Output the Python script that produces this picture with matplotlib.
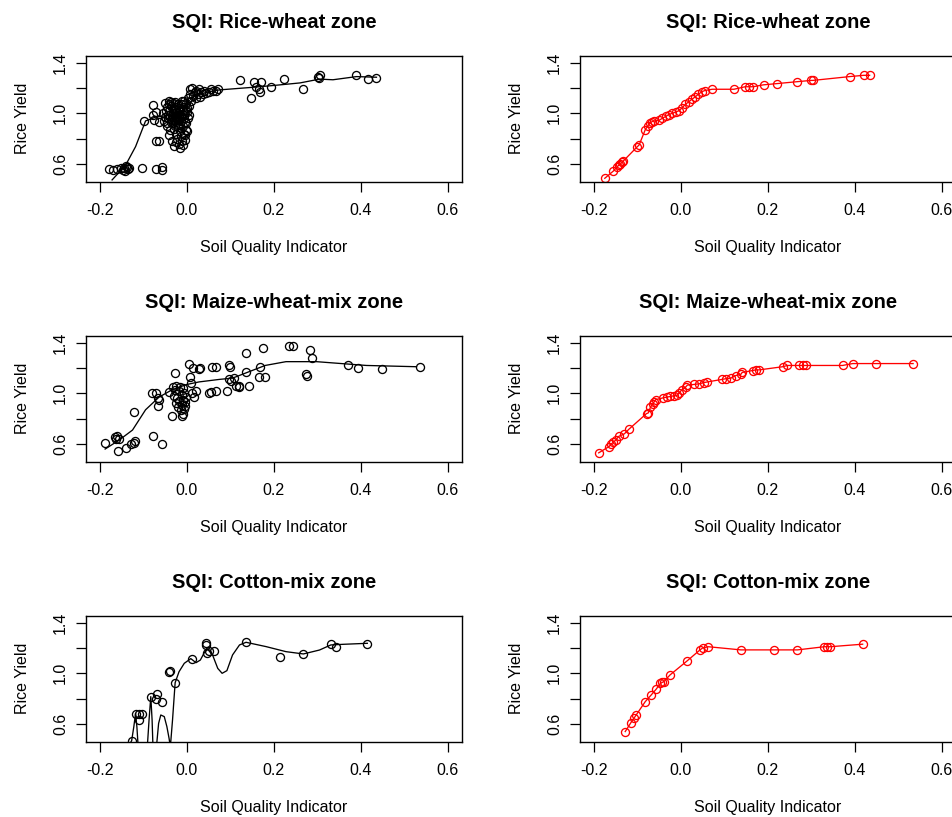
import matplotlib
matplotlib.use("Agg")
import matplotlib.pyplot as plt

plt.rcParams["font.family"] = ["Liberation Sans", "DejaVu Sans"]
plt.rcParams["axes.unicode_minus"] = False

titles = ["SQI: Rice-wheat zone", "SQI: Maize-wheat-mix zone", "SQI: Cotton-mix zone"]
x_ticks = [-0.2, 0.0, 0.2, 0.4, 0.6]
x_tick_labels = ["-0.2", "0.0", "0.2", "0.4", "0.6"]
y_ticks = [0.6, 0.8, 1.0, 1.2, 1.4]
y_tick_labels = ["0.6", "", "1.0", "", "1.4"]

# ---- Rice-wheat zone ----
rw_x = [-0.179, -0.171, -0.160, -0.152, -0.145, -0.143, -0.138, -0.135, -0.132, -0.140, -0.148,
        -0.104, -0.072, -0.058, -0.057,
        -0.098, -0.079, -0.079, -0.072, -0.064, -0.075, -0.070, -0.064,
        -0.050, -0.045, -0.042, -0.040, -0.038, -0.036, -0.035, -0.033, -0.032, -0.030,
        -0.030, -0.028, -0.027, -0.026, -0.025, -0.024, -0.022, -0.022, -0.020, -0.020,
        -0.018, -0.018, -0.016, -0.015, -0.014, -0.013, -0.012, -0.011, -0.010, -0.010,
        -0.008, -0.007, -0.006, -0.005, -0.004, -0.003, -0.002, 0.000, 0.002, 0.003,
        0.005, 0.007, 0.008, 0.010, 0.012, 0.015, 0.018, 0.020, 0.022, 0.025,
        0.028, 0.030, 0.033, 0.036, 0.040, 0.045, 0.050, 0.055, 0.060, 0.068, 0.072,
        -0.040, -0.035, -0.030, -0.025, -0.015, -0.012, -0.005, 0.000, -0.045, -0.050, -0.055,
        -0.052, -0.048, -0.046, -0.043, -0.041, -0.039, -0.037, -0.034, -0.031, -0.029,
        -0.027, -0.023, -0.021, -0.019, -0.017, -0.014, -0.009, -0.006, -0.003, -0.001,
        -0.044, -0.036, -0.028, -0.021, -0.013, -0.007, 0.001, 0.004, -0.016, -0.024,
        0.122, 0.148, 0.155, 0.171, 0.159, 0.166, 0.168, 0.194, 0.223, 0.268,
        0.302, 0.304, 0.305, 0.388, 0.417, 0.435]
rw_y = [0.560, 0.555, 0.560, 0.570, 0.565, 0.545, 0.580, 0.560, 0.570, 0.585, 0.550,
        0.570, 0.560, 0.580, 0.550,
        0.940, 1.066, 0.990, 1.010, 0.930, 0.950, 0.780, 0.780,
        1.08, 1.05, 1.10, 1.02, 0.98, 1.06, 0.95, 1.00, 0.92, 1.04,
        0.88, 0.97, 1.09, 0.84, 0.93, 1.01, 0.80, 0.95, 1.07, 0.89,
        0.99, 0.76, 0.86, 1.03, 0.94, 0.82, 1.10, 0.97, 0.75, 0.90,
        1.05, 0.84, 0.99, 0.93, 0.79, 1.08, 0.87, 1.01, 0.96, 1.12,
        1.06, 1.19, 1.15, 1.10, 1.20, 1.14, 1.17, 1.12, 1.18, 1.15,
        1.19, 1.13, 1.17, 1.15, 1.18, 1.16, 1.17, 1.19, 1.18, 1.18, 1.19,
        0.83, 0.78, 0.74, 0.77, 0.73, 0.78, 0.83, 0.86, 0.92, 0.97, 1.00,
        0.94, 1.02, 0.90, 0.96, 1.07, 0.87, 0.93, 0.97, 1.08, 0.95,
        1.03, 0.98, 0.91, 1.04, 0.96, 1.07, 1.02, 0.96, 1.03, 0.92,
        0.99, 1.09, 0.90, 1.00, 0.98, 1.10, 1.04, 0.99, 0.91, 1.05,
        1.26, 1.12, 1.25, 1.25, 1.21, 1.19, 1.17, 1.21, 1.27, 1.19,
        1.29, 1.28, 1.30, 1.30, 1.27, 1.28]
rw_smooth_x = [-0.172, -0.141, -0.118, -0.095, -0.072, -0.050, -0.030, -0.010, 0.010, 0.030,
               0.050, 0.075, 0.150, 0.200, 0.260, 0.305, 0.336, 0.390, 0.436]
rw_smooth_y = [0.474, 0.590, 0.737, 0.940, 0.970, 0.980, 0.990, 1.020, 1.090, 1.150,
               1.170, 1.185, 1.205, 1.220, 1.240, 1.270, 1.265, 1.290, 1.285]
rw_fit_x = [-0.175, -0.155, -0.147, -0.143, -0.139, -0.135, -0.132, -0.100, -0.096, -0.082,
            -0.076, -0.072, -0.066, -0.061, -0.050, -0.043, -0.035, -0.028, -0.020, -0.012,
            -0.005, 0.002, 0.010, 0.018, 0.025, 0.033, 0.040, 0.048, 0.055, 0.072,
            0.122, 0.148, 0.157, 0.166, 0.190, 0.222, 0.268, 0.300, 0.304, 0.388, 0.420, 0.434]
rw_fit_y = [0.487, 0.545, 0.575, 0.590, 0.600, 0.615, 0.625, 0.737, 0.750, 0.870,
            0.900, 0.920, 0.935, 0.940, 0.945, 0.960, 0.975, 0.990, 1.000, 1.010,
            1.020, 1.040, 1.070, 1.090, 1.110, 1.130, 1.150, 1.170, 1.180, 1.190,
            1.190, 1.210, 1.210, 1.210, 1.225, 1.235, 1.250, 1.260, 1.260, 1.290, 1.300, 1.300]

# ---- Maize-wheat-mix zone ----
mw_x = [-0.188, -0.166, -0.160, -0.157, -0.164, -0.158, -0.141, -0.129, -0.121, -0.119,
        -0.122, -0.078, -0.058, -0.081, -0.072, -0.066, -0.064, -0.066, -0.035, -0.027, -0.040,
        -0.033, -0.030, -0.028, -0.026, -0.024, -0.022, -0.020, -0.018, -0.017, -0.015,
        -0.014, -0.012, -0.011, -0.010, -0.008, -0.007, -0.006, -0.005, -0.004, -0.003,
        -0.012, -0.010,
        0.005, 0.013, 0.027, 0.031, 0.008, 0.010, 0.012, 0.016, 0.020, 0.055,
        0.051, 0.058, 0.067, 0.067, 0.092, 0.098, 0.100, 0.098, 0.102, 0.109,
        0.114, 0.120, 0.121, 0.136, 0.135, 0.144, 0.167, 0.165, 0.180, 0.176,
        0.235, 0.244, 0.276, 0.275, 0.283, 0.287, 0.371, 0.394, 0.448, 0.535]
mw_y = [0.61, 0.655, 0.665, 0.64, 0.64, 0.545, 0.565, 0.60, 0.605, 0.62,
        0.85, 0.66, 0.60, 1.00, 1.00, 0.96, 0.95, 0.90, 0.82, 1.16, 1.01,
        1.05, 0.98, 1.03, 0.92, 1.06, 0.96, 0.89, 1.02, 0.94, 1.05,
        0.87, 0.99, 0.91, 1.04, 0.95, 0.88, 1.00, 0.93, 0.90, 0.97,
        0.82, 0.84,
        1.23, 1.20, 1.19, 1.20, 1.13, 1.08, 1.00, 0.97, 1.02, 1.01,
        1.00, 1.21, 1.21, 1.02, 1.02, 1.22, 1.21, 1.11, 1.10, 1.12,
        1.06, 1.05, 1.06, 1.32, 1.17, 1.06, 1.21, 1.13, 1.13, 1.36,
        1.37, 1.375, 1.14, 1.15, 1.34, 1.28, 1.22, 1.20, 1.19, 1.21]
mw_smooth_x = [-0.188, -0.156, -0.125, -0.095, -0.064, -0.033, 0.000, 0.028, 0.075, 0.105,
               0.150, 0.180, 0.228, 0.298, 0.336, 0.413, 0.528]
mw_smooth_y = [0.56, 0.63, 0.71, 0.87, 0.97, 1.03, 1.07, 1.09, 1.11, 1.12,
               1.18, 1.22, 1.25, 1.25, 1.24, 1.22, 1.21]
mw_fit_x = [-0.189, -0.165, -0.160, -0.155, -0.150, -0.143, -0.130, -0.120, -0.079, -0.075,
            -0.070, -0.065, -0.061, -0.058, -0.040, -0.032, -0.025, -0.016, -0.008, -0.005,
            0.003, 0.011, 0.015, 0.030, 0.042, 0.053, 0.061, 0.095, 0.103, 0.115,
            0.126, 0.138, 0.141, 0.165, 0.172, 0.180, 0.234, 0.245, 0.272, 0.280,
            0.288, 0.372, 0.395, 0.449, 0.534]
mw_fit_y = [0.530, 0.580, 0.600, 0.615, 0.630, 0.660, 0.680, 0.715, 0.840, 0.845,
            0.890, 0.915, 0.935, 0.950, 0.965, 0.970, 0.975, 0.980, 0.985, 1.000,
            1.030, 1.050, 1.065, 1.070, 1.075, 1.085, 1.090, 1.110, 1.115, 1.120,
            1.140, 1.150, 1.165, 1.180, 1.185, 1.185, 1.210, 1.220, 1.220, 1.220,
            1.220, 1.220, 1.235, 1.235, 1.235]

# ---- Cotton-mix zone ----
cm_x = [-0.127, -0.116, -0.110, -0.104, -0.110, -0.083, -0.068, -0.070, -0.058, -0.041,
        -0.039, -0.027, 0.012, 0.045, 0.045, 0.047, 0.050, 0.063, 0.136, 0.215,
        0.268, 0.331, 0.344, 0.415]
cm_y = [0.468, 0.68, 0.675, 0.68, 0.63, 0.816, 0.84, 0.80, 0.776, 1.01,
        1.02, 0.926, 1.11, 1.24, 1.22, 1.16, 1.18, 1.18, 1.245, 1.126,
        1.15, 1.235, 1.21, 1.235]
cm_smooth_x = [-0.135, -0.127, -0.122, -0.118, -0.115, -0.112, -0.091, -0.087, -0.083, -0.080,
               -0.078, -0.070, -0.065, -0.060, -0.052, -0.046, -0.041, -0.038, -0.033, -0.027,
               -0.018, -0.006, 0.009, 0.021, 0.031, 0.040, 0.048, 0.059, 0.071, 0.081,
               0.092, 0.105, 0.121, 0.136, 0.182, 0.228, 0.268, 0.305, 0.331, 0.359, 0.415]
cm_smooth_y = [0.421, 0.468, 0.579, 0.684, 0.579, 0.420, 0.420, 0.632, 0.816, 0.632,
               0.420, 0.420, 0.605, 0.671, 0.658, 0.579, 0.487, 0.420, 0.632, 0.926,
               1.013, 1.079, 1.116, 1.084, 1.105, 1.163, 1.189, 1.145, 1.039, 1.000,
               1.021, 1.145, 1.224, 1.245, 1.211, 1.171, 1.153, 1.184, 1.224, 1.229, 1.237]
cm_fit_x = [-0.128, -0.115, -0.108, -0.103, -0.082, -0.068, -0.057, -0.047, -0.043, -0.039,
            -0.025, 0.015, 0.044, 0.050, 0.063, 0.138, 0.215, 0.268, 0.330, 0.337,
            0.343, 0.418]
cm_fit_y = [0.540, 0.610, 0.645, 0.670, 0.776, 0.830, 0.874, 0.920, 0.928, 0.935,
            0.987, 1.100, 1.185, 1.200, 1.210, 1.185, 1.185, 1.185, 1.210, 1.210,
            1.210, 1.230]

scatter_data = [(rw_x, rw_y, rw_smooth_x, rw_smooth_y),
                (mw_x, mw_y, mw_smooth_x, mw_smooth_y),
                (cm_x, cm_y, cm_smooth_x, cm_smooth_y)]
fit_data = [(rw_fit_x, rw_fit_y), (mw_fit_x, mw_fit_y), (cm_fit_x, cm_fit_y)]

fig = plt.figure(figsize=(9.52, 8.17), dpi=100)

W, H = 952.0, 817.0
row_tops = [55.7, 335.7, 615.7]
col_lefts = [86.0, 580.0]
ax_w, ax_h = 375.7, 126.0


def style_axes(ax, title):
    ax.set_xlim(-0.232, 0.632)
    ax.set_ylim(0.46, 1.455)
    ax.set_xticks(x_ticks)
    ax.set_xticklabels(x_tick_labels)
    ax.set_yticks(y_ticks)
    ax.set_yticklabels(y_tick_labels, rotation=90, va="center")
    ax.tick_params(direction="out", length=7, width=0.9, labelsize=11.5, colors="black")
    ax.tick_params(axis="x", pad=8)
    ax.tick_params(axis="y", pad=6)
    for s in ax.spines.values():
        s.set_linewidth(1.0)
        s.set_color("black")
    ax.set_title(title, fontsize=14.5, fontweight="bold", pad=20)
    ax.set_xlabel("Soil Quality Indicator", fontsize=11.5)
    ax.xaxis.set_label_coords(0.5, -0.46)
    ax.set_ylabel("Rice Yield", fontsize=11.5)
    ax.yaxis.set_label_coords(-0.15, 0.5)


for r in range(3):
    bottom = 1 - (row_tops[r] + ax_h) / H
    # scatter + smooth curve
    ax = fig.add_axes([col_lefts[0] / W, bottom, ax_w / W, ax_h / H])
    px, py, sx, sy = scatter_data[r]
    ax.plot(px, py, linestyle="none", marker="o", markersize=5.8, markerfacecolor="none",
            markeredgecolor="black", markeredgewidth=0.95)
    ax.plot(sx, sy, color="black", linewidth=0.95)
    style_axes(ax, titles[r])

    # fitted values
    ax = fig.add_axes([col_lefts[1] / W, bottom, ax_w / W, ax_h / H])
    fx, fy = fit_data[r]
    ax.plot(fx, fy, color="red", linewidth=0.95, marker="o", markersize=5.8,
            markerfacecolor="none", markeredgecolor="red", markeredgewidth=0.95)
    style_axes(ax, titles[r])

fig.savefig("out.png", dpi=100)
